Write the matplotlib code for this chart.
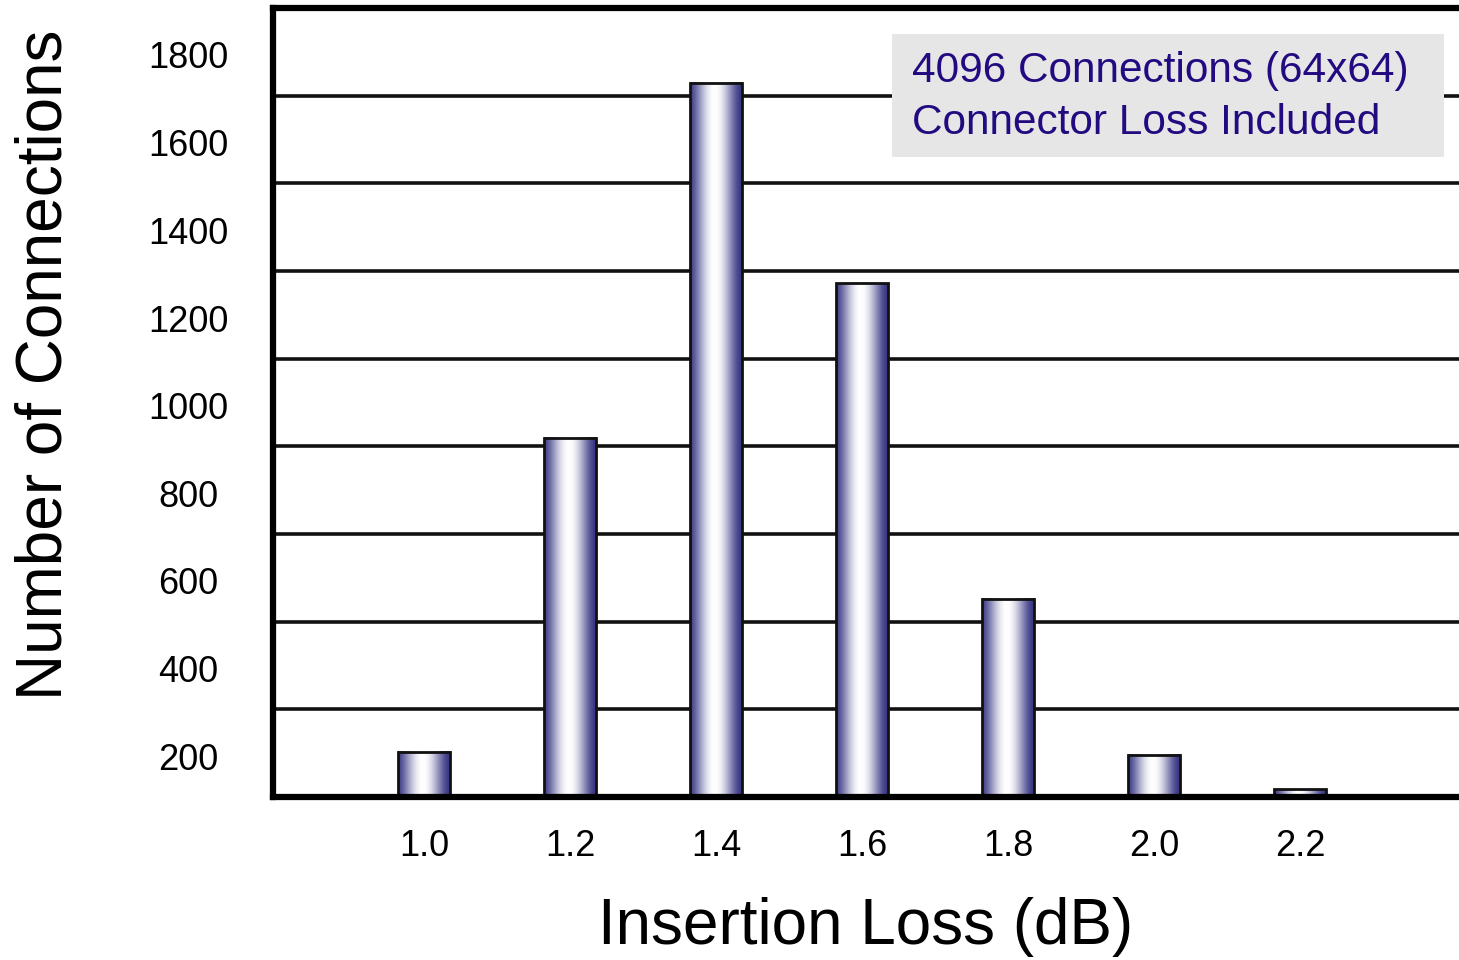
import numpy as np
import matplotlib.pyplot as plt
from matplotlib.colors import LinearSegmentedColormap
from matplotlib.patches import Rectangle
import matplotlib.transforms as mtransforms

plt.rcParams['font.family'] = ['Liberation Sans', 'DejaVu Sans']

# insertion loss histogram
loss_db = [1.0, 1.2, 1.4, 1.6, 1.8, 2.0, 2.2]
counts = [103, 820, 1630, 1172, 452, 96, 18]
x_labels = ['1.0', '1.2', '1.4', '1.6', '1.8', '2.0', '2.2']
y_ticks = [200, 400, 600, 800, 1000, 1200, 1400, 1600, 1800]
y_labels = ['200', '400', '600', '800', '1000', '1200', '1400', '1600', '1800']
note_lines = ['4096 Connections (64x64)', 'Connector Loss Included']

fig = plt.figure(figsize=(14.59, 9.6), dpi=100)
ax = fig.add_axes([273/1459, 1 - 797/960, 1 - 273/1459 + 0.002, (797 - 8)/960])

# cylinder-style shading across each bar
cyl = LinearSegmentedColormap.from_list('cyl', ['#3a3885', '#ffffff'])
t = np.linspace(0, 1, 200)
shade = np.clip(np.cos((t - 0.47) * np.pi * 1.0), 0, 1) ** 1.6
grad = shade[np.newaxis, :]

width = 0.0714
for x, c in zip(loss_db, counts):
    ax.imshow(grad, extent=[x - width/2, x + width/2, 0, c], cmap=cyl,
              vmin=0, vmax=1, aspect='auto', interpolation='bicubic', zorder=3)
    ax.add_patch(Rectangle((x - width/2, 0), width, c, fill=False,
                           edgecolor='#111111', linewidth=2.0, zorder=4))

ax.set_aspect('auto')
ax.set_xlim(0.7926, 2.4217)
ax.set_ylim(0, 1800)

# horizontal rules
for y in y_ticks[:-1]:
    ax.axhline(y, color='#111111', linewidth=2.6, zorder=1)

for side in ['left', 'top', 'bottom']:
    ax.spines[side].set_linewidth(4.5)
    ax.spines[side].set_color('#000000')
ax.spines['bottom'].set_zorder(5)
ax.spines['right'].set_visible(False)

ax.set_xticks(loss_db)
ax.set_xticklabels(x_labels, fontsize=26)
ax.tick_params(axis='x', length=0, pad=23)

ax.set_yticks(y_ticks)
ax.set_yticklabels(y_labels, fontsize=26)
ax.tick_params(axis='y', length=0, pad=61)
offset = mtransforms.ScaledTranslation(0, -0.47, fig.dpi_scale_trans)
for lab in ax.get_yticklabels():
    lab.set_horizontalalignment('center')
    lab.set_transform(lab.get_transform() + offset)

fig.text(866/1459, 1 - 927/960, 'Insertion Loss (dB)', fontsize=46,
         ha='center', va='center')
fig.text(45/1459, 1 - 365/960, 'Number of Connections', fontsize=46,
         rotation=90, ha='center', va='center')

# note box
fig.patches.append(Rectangle((892/1459, 1 - 157/960), 552/1459, 123/960,
                             transform=fig.transFigure, facecolor='#e6e6e6',
                             edgecolor='none', zorder=10))
fig.text(912/1459, 1 - 97/960, '\n'.join(note_lines), fontsize=30.5,
         color='#230a80', ha='left', va='center', linespacing=1.38, zorder=11)

fig.savefig('out.png', dpi=100)
